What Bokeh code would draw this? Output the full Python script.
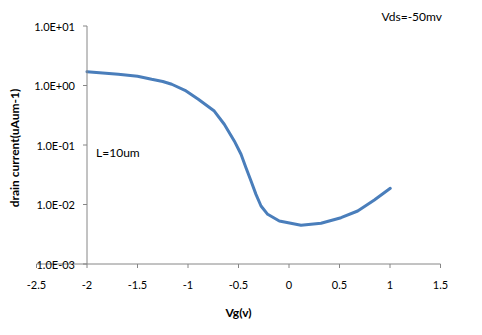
import math
from bokeh.plotting import figure
from bokeh.core.properties import value
from bokeh.embed import file_html
from bokeh.resources import INLINE

# data
vg = [-2.0, -1.69, -1.5, -1.36, -1.25, -1.161, -1.03, -0.898, -0.74, -0.641, -0.542,
      -0.475, -0.426, -0.376, -0.327, -0.277, -0.211, -0.096, 0.119, 0.317, 0.515,
      0.68, 0.845, 1.003]
drain_current = [1.71, 1.54, 1.43, 1.27, 1.17, 1.05, 0.83, 0.586, 0.372, 0.223, 0.117,
                 0.0698, 0.0415, 0.0248, 0.0148, 0.00944, 0.00684, 0.00528, 0.00447,
                 0.00483, 0.0060, 0.00778, 0.0119, 0.0187]

x_ticks = [-2.5, -2.0, -1.5, -1.0, -0.5, 0.0, 0.5, 1.0, 1.5]
x_tick_labels = ["-2.5", "-2", "-1.5", "-1", "-0.5", "0", "0.5", "1", "1.5"]
y_ticks = [0.001, 0.01, 0.1, 1, 10]
y_tick_labels = ["1.0E-03", "1.0E-02", "1.0E-01", "1.0E+00", "1.0E+01"]
y_axis_cross = -2.0
x_min, x_max = -2.5, 1.5
y_min, y_max = 0.001, 10

# layout of the chart area inside the 482x335 canvas (pixels)
W, H = 482, 335
PLOT_LEFT, PLOT_RIGHT, PLOT_TOP, PLOT_BOTTOM = 35, 439, 25, 263
TICK = 4
px_per_x = (PLOT_RIGHT - PLOT_LEFT) / (x_max - x_min)
px_per_dec = (PLOT_BOTTOM - PLOT_TOP) / (math.log10(y_max) - math.log10(y_min))
# y axis line lands on a pixel centre (86.5); x axis line on 263.5
x_start = y_axis_cross - 86.5 / px_per_x
x_end = x_start + W / px_per_x
log_top = math.log10(y_max) + (PLOT_TOP + 0.5) / px_per_dec
log_bottom = log_top - H / px_per_dec

FONT = value("Lato")
AXIS_COLOR = "#868686"

p = figure(width=W, height=H, y_axis_type="log",
           x_range=(x_start, x_end), y_range=(10 ** log_bottom, 10 ** log_top),
           output_backend="svg", toolbar_location=None,
           x_axis_location=None, y_axis_location=None, min_border=0)
p.title.visible = False
p.outline_line_color = None
p.xgrid.visible = False
p.ygrid.visible = False
p.background_fill_color = "white"
p.border_fill_color = "white"

def y_down(y, px):
    return 10 ** (math.log10(y) - px / px_per_dec)

# data series
p.line(vg, drain_current, line_color="#4A7EBB", line_width=3,
       line_join="round", line_cap="round")

# x axis (ticks point downwards only)
p.segment(x0=[x_min], y0=[y_min], x1=[x_max], y1=[y_min],
          line_color=AXIS_COLOR, line_width=1)
p.scatter(x=x_ticks, y=[y_down(y_min, TICK / 2)] * len(x_ticks), marker="dash",
          size=TICK, angle=math.pi / 2, line_color=AXIS_COLOR, line_width=1,
          fill_color=None)
p.text(x=x_ticks, y=[y_min] * len(x_ticks), text=x_tick_labels, y_offset=21,
       text_align="center", text_baseline="middle", text_font=FONT,
       text_font_size="11px", text_color="black")
p.text(x=[(x_min + x_max) / 2], y=[y_min], text=["Vg(v)"], y_offset=48,
       text_align="center", text_baseline="middle", text_font=FONT,
       text_font_style="bold", text_font_size="12px", text_color="black")

# y axis crossing at Vg = -2 (ticks point left only)
p.segment(x0=[y_axis_cross], y0=[y_min], x1=[y_axis_cross], y1=[y_max],
          line_color=AXIS_COLOR, line_width=1)
p.scatter(x=[y_axis_cross - (TICK / 2) / px_per_x] * len(y_ticks), y=y_ticks,
          marker="dash", size=TICK, line_color=AXIS_COLOR, line_width=1,
          fill_color=None)
p.text(x=[y_axis_cross] * len(y_ticks), y=y_ticks, text=y_tick_labels, x_offset=-12,
       text_align="right", text_baseline="middle", text_font=FONT,
       text_font_size="11px", text_color="black")
p.text(x=[x_min - 22 / px_per_x], y=[10 ** (math.log10(y_max) - 122 / px_per_dec)],
       text=["drain current(uAum-1)"], angle=math.pi / 2,
       text_align="center", text_baseline="middle", text_font=FONT,
       text_font_style="bold", text_font_size="12px", text_color="black")

# annotations
p.text(x=[-1.91], y=[0.074], text=["L=10um"], text_baseline="middle",
       text_font=FONT, text_font_size="12px", text_color="black")
p.text(x=[x_min + (380 - PLOT_LEFT) / px_per_x],
       y=[10 ** (math.log10(y_max) + 10 / px_per_dec)], text=["Vds=-50mv"],
       text_baseline="middle", text_font=FONT, text_font_size="12px",
       text_color="black")

open("out.html", "w").write(file_html(p, INLINE))
